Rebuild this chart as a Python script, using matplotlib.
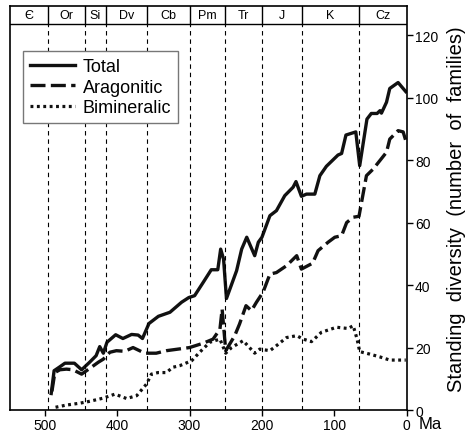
import numpy as np
import matplotlib
matplotlib.use('Agg')
import matplotlib.pyplot as plt

# period boundaries (Ma) and labels
bounds = [548, 495, 444, 416, 359, 299, 251, 200, 145, 65.5, 0]
periods = ['Є', 'Or', 'Si', 'Dv', 'Cb', 'Pm', 'Tr', 'J', 'K', 'Cz']

# total diversity
total_ma = [491, 487, 480, 472, 459, 449, 438, 429, 424, 419, 414, 402, 392, 380, 371, 365,
            356, 343, 327, 311, 301, 293, 281, 270, 261, 257, 253, 249, 235, 228, 221, 210,
            205, 200, 189, 180, 168.5, 157, 153, 145.5, 138.5, 127, 120, 111, 95, 90, 84,
            70.4, 65, 55, 49, 41, 37, 35, 28, 23.5, 12, 1.4]
total_val = [5.3, 12.6, 13.7, 15, 15, 12.9, 15.3, 17.4, 20.3, 18.2, 21.7, 24.1, 22.9, 24.2, 24,
             22.9, 27.7, 30, 31.3, 34.5, 36, 36.6, 40.9, 44.9, 44.9, 51.5, 48.3, 35.7, 44.6,
             51.5, 55.3, 49.4, 53.7, 55.3, 62.2, 63.8, 68.6, 71.3, 73.1, 68.4, 69.1, 69.1, 75,
             78, 81.6, 82.1, 88, 89, 78.2, 93.1, 94.9, 94.9, 95.8, 95, 98.5, 102.9, 104.8, 101.9]

# aragonitic
arag_ma = [490, 486, 479, 470, 461, 449, 438, 426, 419, 410, 401, 389.5, 378, 369, 362, 346,
           332, 300, 281, 267.5, 258, 255, 250, 237.6, 231, 222, 214.5, 207.6, 198.5, 189,
           180, 166, 152, 145.5, 130, 122.5, 108.7, 99.4, 90, 83, 74, 66, 55.7, 46.5, 28,
           23.5, 12, 5, 1.4]
arag_val = [6, 12, 12.9, 13.1, 12.9, 11.5, 13.3, 15.3, 16.3, 18.5, 19, 18.8, 20, 19, 18.2, 18.2,
            19, 20, 21.4, 22.7, 25.9, 32.3, 19, 23.8, 27.5, 33.4, 31.8, 34.5, 37.7, 43.5,
            44, 46.2, 49.4, 45.1, 47, 51, 53.7, 55.3, 55.8, 60, 61.7, 62, 75, 77.1, 82.5,
            86.7, 89.4, 89, 86.2]

# bimineralic
bimin_ma = [485, 470, 451.6, 438, 419.5, 403, 387, 373, 359.5, 352.6, 343.5, 332, 323, 313.5,
            297, 286, 272, 258, 250, 242, 226, 210, 203, 189, 180, 166, 152, 143, 131.6,
            117.8, 97, 81, 74, 68.6, 65, 51, 37, 23.5, 1.4]
bimin_val = [0.9, 1.6, 2.2, 2.8, 3.8, 5.1, 3.7, 4.6, 8.3, 11.5, 12, 12, 13.7, 14.2,
             15.8, 18.5, 21.7, 22.7, 18.2, 20, 22.2, 18.2, 19.5, 19, 20.6, 23.2, 23.8, 22.7,
             21.9, 24.9, 26.5, 26.1, 27, 22.7, 18.7, 17.9, 17, 16, 16]

plt.rcParams['font.family'] = ['Liberation Sans', 'DejaVu Sans']

fig = plt.figure(figsize=(4.73, 4.35), dpi=100)
ax = fig.add_axes([0.021, 0.055, 0.839, 0.929])

band_lo, band_hi = 123.5, 129.3

ax.plot(total_ma, total_val, color='#111111', lw=2.4, label='Total')
ax.plot(arag_ma, arag_val, color='#111111', lw=2.4, dashes=(4.5, 1.6), label='Aragonitic')
ax.plot(bimin_ma, bimin_val, color='#111111', lw=2.3, dashes=(0.9, 1.1), label='Bimineralic')

# period boundaries
for b in bounds[1:-1]:
    ax.plot([b, b], [0, band_lo], color='black', lw=0.8, dashes=(4, 3.5))
    ax.plot([b, b], [band_lo, band_hi], color='black', lw=1.0)
ax.axhline(band_lo, color='black', lw=1.0)
for i, p in enumerate(periods):
    mid = (bounds[i] + bounds[i + 1]) / 2
    ax.text(mid, (band_lo + band_hi) / 2, p, ha='center', va='center', fontsize=9,
            family=['Liberation Sans Narrow', 'Liberation Sans', 'DejaVu Sans'])

ax.set_xlim(548, 0)
ax.set_ylim(0, band_hi)

ax.set_xticks([500, 400, 300, 200, 100, 0])
ax.set_yticks([0, 20, 40, 60, 80, 100, 120])
ax.yaxis.tick_right()
ax.yaxis.set_label_position('right')
ax.tick_params(axis='both', labelsize=10, direction='out', length=4, width=1, pad=2)
for s in ax.spines.values():
    s.set_linewidth(1.2)

ax.set_ylabel('Standing  diversity  (number  of  families)', fontsize=14.5, labelpad=6)
ax.text(1.03, -0.015, 'Ma', transform=ax.transAxes, fontsize=12, ha='left', va='top')

leg = ax.legend(loc='upper left', bbox_to_anchor=(0.033, 0.889), fontsize=13, frameon=True,
                fancybox=False, edgecolor='#777777', handlelength=2.5, handletextpad=0.4,
                borderpad=0.4, labelspacing=0.2, borderaxespad=0, framealpha=1)
leg.get_frame().set_linewidth(1.0)

fig.savefig('out.png', dpi=100)
